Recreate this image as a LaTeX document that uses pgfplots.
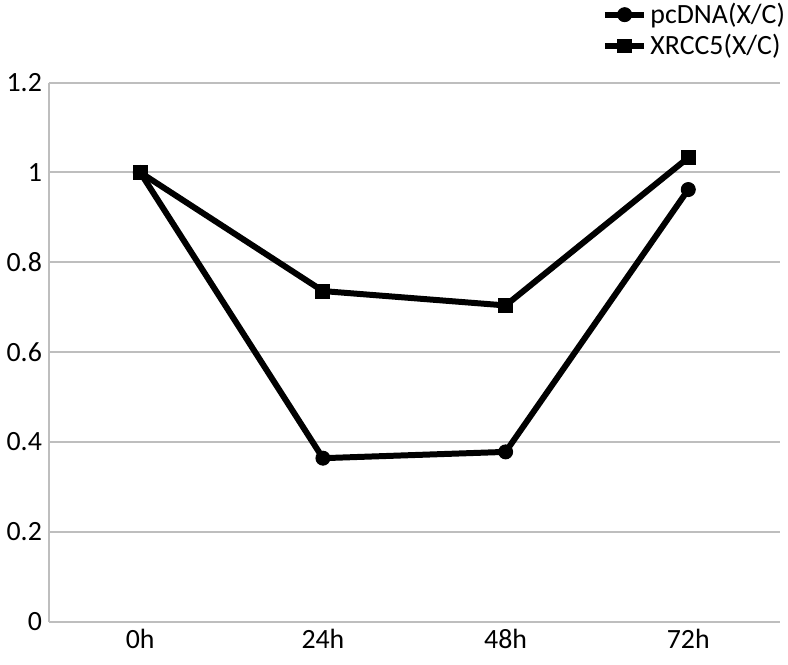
\documentclass[border=0pt]{standalone}
\usepackage{pgfplots}
\pgfplotsset{compat=1.18}
\usepackage{fontspec}
\setmainfont{Carlito}
\definecolor{gridgray}{RGB}{190,190,190}

\begin{document}
\begin{tikzpicture}
\begin{axis}[
    scale only axis,
    width=366bp,
    height=270bp,
    xmin=-0.5, xmax=3.5,
    ymin=0, ymax=1.2,
    xtick={0,1,2,3},
    xticklabels={0h,24h,48h,72h},
    ytick={0,0.2,0.4,0.6,0.8,1,1.2},
    /pgf/number format/assume math mode=true,
    tick label style={font=\fontsize{14}{16}\selectfont},
    axis x line*=bottom,
    axis y line*=left,
    axis line style={gridgray, line width=1bp},
    every tick/.style={gridgray, line width=1bp},
    x tick style={draw=none},
    major tick length=4bp,
    extra x ticks={-0.5,0.5,1.5,2.5,3.5},
    extra x tick labels={},
    extra x tick style={grid=none, tick style={draw=gridgray, line width=1bp}},
    ymajorgrids,
    grid style={gridgray, line width=1bp},
    legend style={
        at={(axis description cs:1.012,1.04)},
        anchor=south east,
        draw=none, fill=none,
        font=\fontsize{14}{15}\selectfont,
        row sep=1bp,
        inner sep=0pt,
        nodes={inner sep=1.5bp},
    },
    legend cell align=left,
    legend image code/.code={
        \draw[#1, mark repeat=2, mark phase=2]
            plot coordinates {(0cm,0cm) (0.35cm,0cm) (0.7cm,0cm)};
    },
    clip=false,
]

\addplot[black, line width=3bp, mark=*, mark size=3.5bp, mark options={line width=0.5bp}]
    coordinates {(0,1.0) (1,0.364) (2,0.378) (3,0.962)};
\addlegendentry{pcDNA(X/C)}

\addplot[black, line width=3bp, mark=square*, mark size=3.5bp, mark options={line width=0.5bp}]
    coordinates {(0,1.0) (1,0.736) (2,0.704) (3,1.033)};
\addlegendentry{XRCC5(X/C)}

\end{axis}
\path (current bounding box.south) ++(0,-5bp) coordinate (bottompad);
\end{tikzpicture}
\end{document}
